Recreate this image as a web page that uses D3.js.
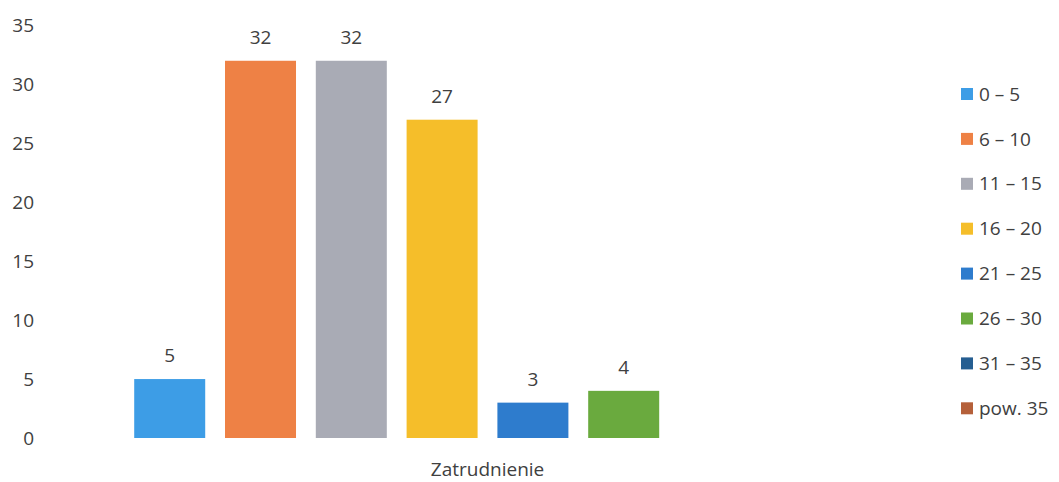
<!DOCTYPE html>
<html>
<head>
<meta charset="utf-8">
<script src="https://cdn.jsdelivr.net/npm/d3@7"></script>
<style>
  body { margin: 0; background: #fff; }
  text { font-family: "Open Sans", "Noto Sans", sans-serif; fill: #404040; }
</style>
</head>
<body>
<svg id="chart" width="1059" height="482"></svg>
<script>
const categories = ["Zatrudnienie"];
const seriesNames = ["0 – 5", "6 – 10", "11 – 15", "16 – 20", "21 – 25", "26 – 30", "31 – 35", "pow. 35"];
const seriesValues = [5, 32, 32, 27, 3, 4, 0, 0];
const seriesColors = ["#3d9de6", "#ee8145", "#a9abb5", "#f5be2a", "#2e7ccd", "#6aaa3e", "#255e91", "#b5603a"];
const yTicks = [0, 5, 10, 15, 20, 25, 30, 35];

const svg = d3.select("#chart");
const plotTop = 25.4, plotBottom = 438;

const y = d3.scaleLinear().domain([0, 35]).range([plotBottom, plotTop]);
const x0 = d3.scaleBand().domain(categories).range([40, 935]).padding(0.104);
const x1 = d3.scaleBand().domain(seriesNames).range([0, x0.bandwidth()])
  .paddingInner(0.218).paddingOuter(0.109);

// Y axis
const yAxis = d3.axisLeft(y).tickValues(yTicks).tickSize(0).tickPadding(0);
const gy = svg.append("g").attr("transform", "translate(34,0)").call(yAxis);
gy.select(".domain").remove();
gy.selectAll("text").style("font-family", '"Open Sans", sans-serif')
  .attr("font-size", 19).attr("fill", "#404040");

// Bars
const data = seriesNames.map((s, i) => ({ name: s, value: seriesValues[i], color: seriesColors[i] }));
const g = svg.append("g").attr("transform", `translate(${x0(categories[0])},0)`);
g.selectAll("rect").data(data.filter(d => d.value > 0)).join("rect")
  .attr("x", d => x1(d.name))
  .attr("y", d => y(d.value))
  .attr("width", x1.bandwidth())
  .attr("height", d => y(0) - y(d.value))
  .attr("fill", d => d.color);

g.selectAll("text.lbl").data(data.filter(d => d.value > 0)).join("text")
  .attr("class", "lbl")
  .attr("x", d => x1(d.name) + x1.bandwidth() / 2)
  .attr("y", d => y(d.value) - 17)
  .attr("text-anchor", "middle")
  .attr("font-size", 19)
  .attr("fill", "#262626")
  .text(d => d.value);

// X axis category label
const xAxis = d3.axisBottom(x0).tickSize(0).tickPadding(0);
const gx = svg.append("g").attr("transform", `translate(0,${plotBottom + 38})`).call(xAxis);
gx.select(".domain").remove();
gx.selectAll("text").style("font-family", '"Open Sans", sans-serif')
  .attr("font-size", 19).attr("fill", "#404040").attr("dy", 0);

// Legend
const legend = svg.append("g").attr("transform", "translate(961,94)");
const li = legend.selectAll("g").data(data).join("g")
  .attr("transform", (d, i) => `translate(0,${i * 44.9})`);
li.append("rect").attr("x", 0).attr("y", -6).attr("width", 12).attr("height", 12).attr("fill", d => d.color);
li.append("text").attr("x", 18).attr("y", 0).attr("dy", "0.35em")
  .attr("font-size", 19).attr("fill", "#404040").text(d => d.name);
</script>
</body>
</html>
